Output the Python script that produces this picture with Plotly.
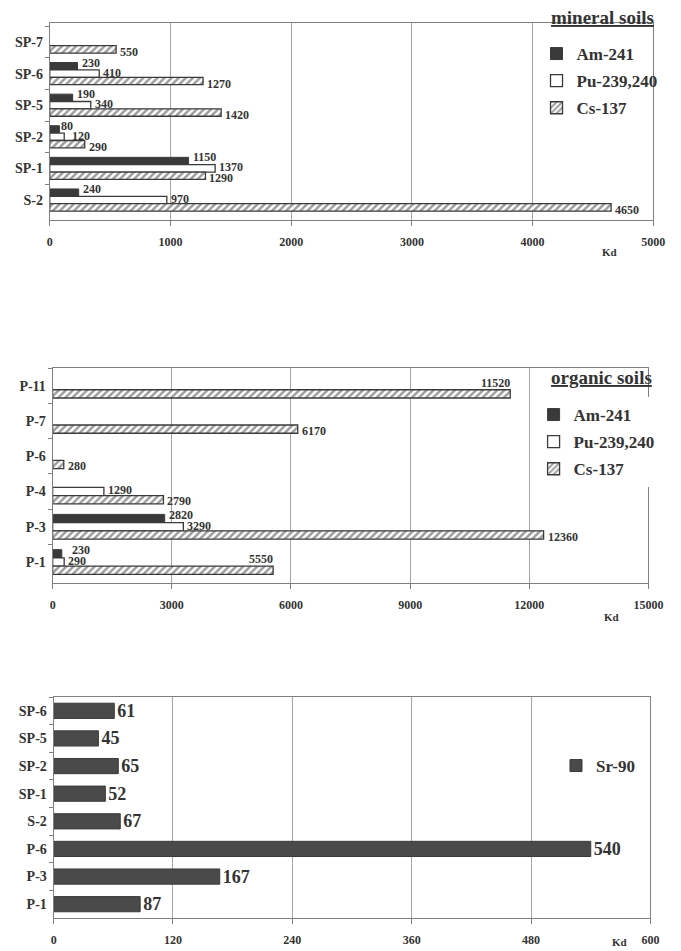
import plotly.graph_objects as go

W, H = 681, 951

# ---- Data ----
min_cats = ["SP-7", "SP-6", "SP-5", "SP-2", "SP-1", "S-2"]
min_am = [None, 230, 190, 80, 1150, 240]
min_pu = [None, 410, 340, 120, 1370, 970]
min_cs = [550, 1270, 1420, 290, 1290, 4650]

org_cats = ["P-11", "P-7", "P-6", "P-4", "P-3", "P-1"]
org_am = [None, None, None, None, 2820, 230]
org_pu = [None, None, None, 1290, 3290, 290]
org_cs = [11520, 6170, 280, 2790, 12360, 5550]

sr_cats = ["SP-6", "SP-5", "SP-2", "SP-1", "S-2", "P-6", "P-3", "P-1"]
sr_vals = [61, 45, 65, 52, 67, 540, 167, 87]

series_names = ["Am-241", "Pu-239,240", "Cs-137"]

SERIF = "Liberation Serif"
DARK = "#3a3a3a"
TXT = "#333333"

def px_x(v):
    return v / W

def px_y(v):
    return 1 - v / H

fig = go.Figure()
annots = []

# label placement (style only): series index -> vertical pixel shift
LABEL_YSHIFT_1 = [11, 1, -10]
LABEL_YSHIFT_2 = [12, 1, -10]
# labels in the organic panel that the original placed above the bar end
ABOVE_END = {("P-11", 2), ("P-1", 2)}
# small horizontal nudges for crowded labels (style only)
XNUDGE = {("P-1", 0): 6, ("SP-2", 0): -2, ("SP-2", 1): 4}

def add_group(cats, am, pu, cs, xa, ya, legend, yshifts, above=set()):
    vals = [am, pu, cs]
    for i, (name, v) in enumerate(zip(series_names, vals)):
        if i == 0:
            marker = dict(color=DARK, line=dict(color=DARK, width=1))
        elif i == 1:
            marker = dict(color="white", line=dict(color=DARK, width=1.3))
        else:
            marker = dict(color="white", line=dict(color=DARK, width=1.3),
                          pattern=dict(shape="/", fgcolor=DARK, bgcolor="white",
                                       size=5, solidity=0.5))
        fig.add_trace(go.Bar(
            y=cats, x=v, orientation="h", name=name, marker=marker,
            xaxis=xa, yaxis=ya, legend=legend, legendgroup=legend + name,
        ))
        for c, val in zip(cats, v):
            if val is None:
                continue
            a = dict(x=val, y=c, xref=xa, yref=ya, text=str(val),
                     showarrow=False, font=dict(family=SERIF, size=12,
                                                color=TXT, weight="bold"))
            nudge = XNUDGE.get((c, i), 0)
            if (c, i) in above:
                a.update(xanchor="right", xshift=2, yshift=yshifts[i] + 13,
                         yanchor="middle")
            else:
                a.update(xanchor="left", xshift=2 + nudge, yshift=yshifts[i],
                         yanchor="middle")
            annots.append(a)

add_group(min_cats, min_am, min_pu, min_cs, "x", "y", "legend", LABEL_YSHIFT_1)
add_group(org_cats, org_am, org_pu, org_cs, "x2", "y2", "legend2", LABEL_YSHIFT_2,
          ABOVE_END)

fig.add_trace(go.Bar(
    y=sr_cats, x=sr_vals, orientation="h", name="Sr-90", width=0.55,
    marker=dict(color="#4a4a4a", line=dict(color="#3a3a3a", width=1)),
    text=[str(v) for v in sr_vals], textposition="outside", cliponaxis=False,
    constraintext="none",
    textfont=dict(family=SERIF, size=18, color=TXT, weight="bold"),
    xaxis="x3", yaxis="y3", legend="legend3",
))

tickfont = dict(family=SERIF, size=12, color=TXT, weight="bold")
catfont = dict(family=SERIF, size=14, color=TXT, weight="bold")

def xaxis(dom, rng, dtick, anchor):
    return dict(domain=dom, range=rng, dtick=dtick, anchor=anchor,
                tickformat="d",
                showgrid=True, gridcolor="#a5a5a5", gridwidth=1,
                showline=True, linecolor="#808080", linewidth=1, mirror=True,
                ticks="outside", ticklen=5, tickcolor="#808080",
                tickfont=tickfont, ticklabelstandoff=6, zeroline=False,
                fixedrange=True)

def yaxis(dom, anchor):
    return dict(domain=dom, anchor=anchor, autorange="reversed",
                type="category", showline=True, linecolor="#808080",
                linewidth=1, mirror=True, ticks="outside", ticklen=4,
                tickcolor="#808080", tickson="boundaries",
                tickfont=catfont, ticklabelstandoff=3, showgrid=False)

legfont = dict(family=SERIF, size=17, color=TXT, weight="bold")

fig.update_layout(
    width=W, height=H, margin=dict(l=0, r=0, t=0, b=0),
    paper_bgcolor="white", plot_bgcolor="white",
    barmode="group", bargap=0.3, bargroupgap=0,
    xaxis=xaxis([px_x(48), px_x(668)], [0, 5000], 1000, "y"),
    yaxis=yaxis([px_y(220), px_y(23)], "x"),
    xaxis2=xaxis([px_x(51), px_x(663)], [0, 15000], 3000, "y2"),
    yaxis2=yaxis([px_y(583), px_y(368)], "x2"),
    xaxis3=xaxis([px_x(52), px_x(665)], [0, 600], 120, "y3"),
    yaxis3=yaxis([px_y(918), px_y(697)], "x3"),
    legend=dict(x=px_x(548), y=px_y(36), xanchor="left", yanchor="top",
                font=legfont, bgcolor="rgba(0,0,0,0)", tracegroupgap=2,
                itemwidth=30),
    legend2=dict(x=px_x(545), y=px_y(397), xanchor="left", yanchor="top",
                 font=legfont, bgcolor="white", tracegroupgap=2,
                 itemwidth=30),
    legend3=dict(x=px_x(568), y=px_y(748), xanchor="left", yanchor="top",
                 font=legfont, bgcolor="rgba(0,0,0,0)", itemwidth=30),
    showlegend=True,
)

extra = [
    dict(text="<u>mineral soils</u>", x=px_x(671), y=px_y(18), xanchor="right",
         yanchor="middle", font=dict(family=SERIF, size=19, color=TXT, weight="bold")),
    dict(text="<u>organic soils</u>", x=px_x(669), y=px_y(377), xanchor="right",
         yanchor="middle", font=dict(family=SERIF, size=19, color=TXT, weight="bold")),
    dict(text="Kd", x=px_x(623), y=px_y(252), xanchor="center", yanchor="middle",
         font=dict(family=SERIF, size=11, color=TXT, weight="bold")),
    dict(text="Kd", x=px_x(625), y=px_y(617), xanchor="center", yanchor="middle",
         font=dict(family=SERIF, size=11, color=TXT, weight="bold")),
    dict(text="Kd", x=px_x(633), y=px_y(950), xanchor="center", yanchor="bottom",
         font=dict(family=SERIF, size=11, color=TXT, weight="bold")),
]
for a in extra:
    a.update(xref="paper", yref="paper", showarrow=False)
fig.update_layout(annotations=annots + extra)

fig.write_html("out.html")
